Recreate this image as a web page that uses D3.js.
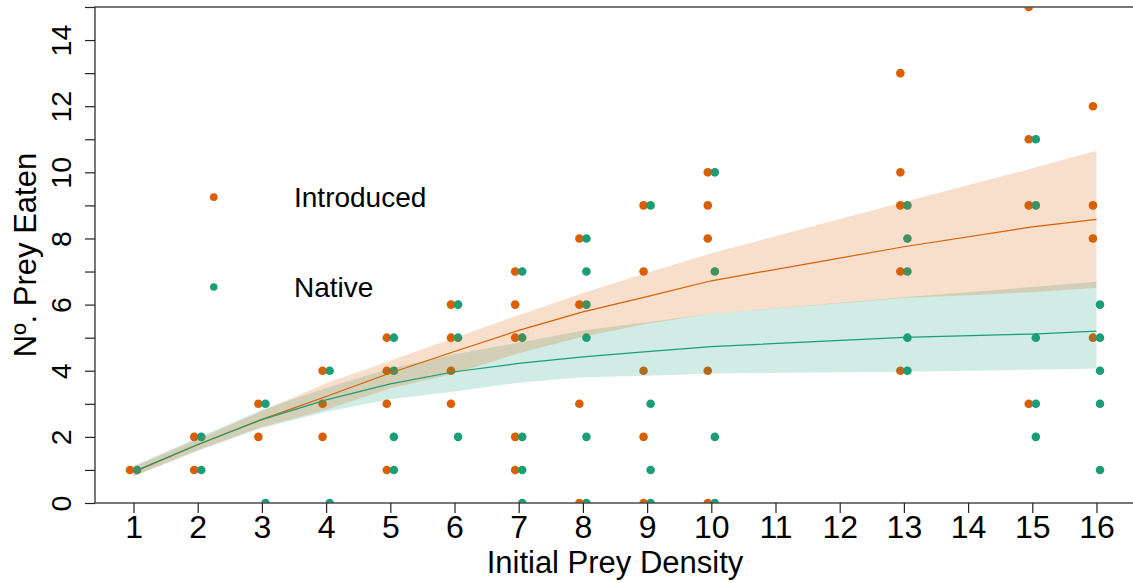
<!DOCTYPE html>
<html>
<head>
<meta charset="utf-8">
<script src="https://cdn.jsdelivr.net/npm/d3@7"></script>
<style>
  html, body { margin: 0; padding: 0; background: #fff; }
  text { font-family: Arial, "Liberation Sans", sans-serif; fill: #000; }
</style>
</head>
<body>
<svg id="chart" width="1133" height="583"></svg>
<script>
// ---- data ----
const densities = [1, 2, 3, 4, 5, 6, 7, 8, 9, 10, 13, 15, 16];
const introducedEaten = [[1],[2,1],[3,2],[4,3,2],[5,4,3,1],[6,5,4,3],[7,6,5,2,1],[8,6,3,0],[9,7,4,2,0],[10,9,8,4,0],[13,10,9,7,4],[15,11,9,3],[12,9,8,5]];
const nativeEaten = [[1],[2,1],[3,0],[4,0],[5,4,2,1],[6,5,2],[7,5,2,1,0],[8,7,6,5,2,0],[9,3,1,0],[10,7,2,0],[9,8,7,5,4],[11,9,5,3,2],[6,5,4,3,1]];
const introducedFit   = [0.93, 1.76, 2.53, 3.22, 3.93, 4.58, 5.22, 5.78, 6.24, 6.72, 7.75, 8.35, 8.58];
const introducedLower = [0.80, 1.60, 2.30, 2.82, 3.47, 3.92, 4.53, 5.03, 5.42, 5.72, 6.20, 6.37, 6.51];
const introducedUpper = [1.10, 1.93, 2.78, 3.62, 4.30, 5.00, 5.68, 6.35, 6.96, 7.55, 9.10, 10.12, 10.65];
const nativeFit   = [0.95, 1.77, 2.52, 3.12, 3.60, 3.97, 4.22, 4.42, 4.58, 4.73, 5.01, 5.11, 5.20];
const nativeLower = [0.82, 1.57, 2.27, 2.76, 3.14, 3.37, 3.64, 3.80, 3.85, 3.92, 3.97, 4.03, 4.07];
const nativeUpper = [1.12, 1.97, 2.82, 3.48, 4.07, 4.50, 4.85, 5.22, 5.47, 5.72, 6.22, 6.53, 6.69];
const xTicks = [1,2,3,4,5,6,7,8,9,10,11,12,13,14,15,16];
const yTicks = [0,1,2,3,4,5,6,7,8,9,10,11,12,13,14,15];
const yTickLabels = [0,2,4,6,8,10,12,14];
const seriesNames = ["Introduced", "Native"];
const colors = ["#D95F02", "#1B9E77"];

// ---- layout ----
const svg = d3.select("#chart");
const x = d3.scaleLinear().domain([0.4, 16.6]).range([95, 1135]);
const y = d3.scaleLinear().domain([0, 15]).range([503, 7]);
const offsets = [-0.055, 0.055];

svg.append("defs").append("clipPath").attr("id", "plotclip")
  .append("rect")
  .attr("x", x(0.4)).attr("y", y(15))
  .attr("width", x(16.6) - x(0.4)).attr("height", y(0) - y(15));

const plot = svg.append("g").attr("clip-path", "url(#plotclip)");

// points
function flatten(groups) {
  const out = [];
  groups.forEach((vals, i) => vals.forEach(v => out.push({ d: densities[i], v })));
  return out;
}
[introducedEaten, nativeEaten].forEach((groups, s) => {
  plot.append("g").selectAll("circle")
    .data(flatten(groups))
    .join("circle")
    .attr("cx", p => x(p.d + offsets[s]))
    .attr("cy", p => y(p.v))
    .attr("r", 4.3)
    .attr("fill", colors[s]);
});

// ribbons (drawn over points with transparency)
const ribbons = [
  { lo: nativeLower, hi: nativeUpper, c: colors[1] },
  { lo: introducedLower, hi: introducedUpper, c: colors[0] }
];
ribbons.forEach(r => {
  const area = d3.area()
    .x((d, i) => x(densities[i]))
    .y0((d, i) => y(r.lo[i]))
    .y1((d, i) => y(r.hi[i]));
  plot.append("path").datum(densities).attr("d", area)
    .attr("fill", r.c).attr("fill-opacity", 0.2).attr("stroke", "none");
});

// fitted lines
[[introducedFit, colors[0]], [nativeFit, colors[1]]].forEach(([fit, c]) => {
  const line = d3.line().x((d, i) => x(densities[i])).y((d, i) => y(fit[i]));
  plot.append("path").datum(densities).attr("d", line)
    .attr("fill", "none").attr("stroke", c).attr("stroke-width", 1.2);
});

// box
svg.append("rect")
  .attr("x", x(0.4)).attr("y", y(15))
  .attr("width", x(16.6) - x(0.4)).attr("height", y(0) - y(15))
  .attr("fill", "none").attr("stroke", "#555").attr("stroke-width", 1.6);

// x axis
const xAxis = svg.append("g").attr("transform", `translate(0,${y(0)})`)
  .call(d3.axisBottom(x).tickValues(xTicks).tickSize(10).tickFormat(d3.format("d")));
xAxis.select(".domain").remove();
xAxis.selectAll(".tick line").attr("stroke", "#222").attr("stroke-width", 1.2);
xAxis.selectAll(".tick text")
  .attr("y", 35).attr("dy", null)
  .style("font-size", "32px").attr("fill", "#000");

// y axis
const yAxis = svg.append("g").attr("transform", `translate(${x(0.4)},0)`)
  .call(d3.axisLeft(y).tickValues(yTicks).tickSize(10)
    .tickFormat(v => yTickLabels.includes(v) ? String(v) : ""));
yAxis.select(".domain").remove();
yAxis.selectAll(".tick line").attr("stroke", "#222").attr("stroke-width", 1.2);
yAxis.selectAll(".tick text")
  .attr("transform", "rotate(-90)")
  .attr("x", 0).attr("y", -24.5).attr("dy", null)
  .attr("text-anchor", "middle")
  .style("font-size", "28.5px").attr("fill", "#000");

// axis titles
svg.append("text")
  .attr("x", (x(0.4) + x(16.6)) / 2).attr("y", 573)
  .attr("text-anchor", "middle").style("font-size", "31px")
  .text("Initial Prey Density");
svg.append("text")
  .attr("transform", `translate(36,${(y(0) + y(15)) / 2}) rotate(-90)`)
  .attr("text-anchor", "middle").style("font-size", "31px")
  .text("Nº. Prey Eaten");

// legend
const legendY = [9.25, 6.53];
seriesNames.forEach((name, i) => {
  svg.append("circle")
    .attr("cx", x(2.25)).attr("cy", y(legendY[i])).attr("r", 3.8)
    .attr("fill", colors[i]);
  svg.append("text")
    .attr("x", 294).attr("y", y(legendY[i]) + 10)
    .style("font-size", "28px")
    .text(name);
});
</script>
</body>
</html>
